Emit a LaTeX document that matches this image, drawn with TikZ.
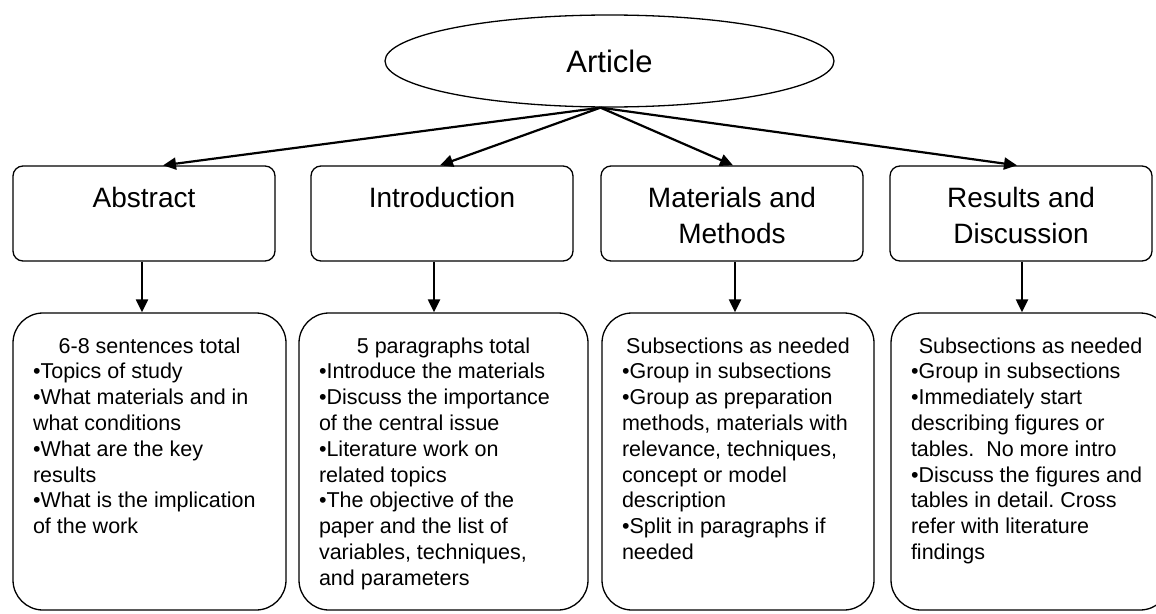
\documentclass[tikz,border=0pt]{standalone}
\usepackage{fontspec}
\setmainfont{Liberation Sans}
\usetikzlibrary{arrows.meta,shapes.geometric}
\frenchspacing
\newcommand{\titlefont}{\fontsize{28pt}{36pt}\selectfont}
\newcommand{\bodyfont}{\fontsize{21.5pt}{25.8pt}\selectfont}
\newcommand{\topcontent}[1]{\parbox[c][95pt][t]{250pt}{\titlefont\centering\rule{0pt}{41pt}#1\par}}
\newcommand{\botcontent}[3]{\parbox[c][297pt][t]{#1}{\bodyfont{\centering\rule{0pt}{40pt}#2\par}\raggedright #3\par}}
\tikzset{
  topbox/.style={draw, line width=1.3pt, rounded corners=10pt, inner sep=0pt, minimum width=262pt, minimum height=95pt},
  botbox/.style={draw, line width=1.3pt, rounded corners=30pt, inner sep=0pt, minimum height=297pt},
  arr/.style={line width=2.2pt, -{Triangle[length=13pt,width=12pt]}},
}
\begin{document}
\begin{tikzpicture}[x=1pt,y=-1pt]
\useasboundingbox (0,0) rectangle (1156,613);
\node[draw, ellipse, line width=1.3pt, minimum width=449pt, minimum height=92pt, inner sep=0pt] (art) at (609.5,61) {\fontsize{31pt}{36pt}\selectfont Article};

\node[topbox] (abs) at (144,213.5) {\topcontent{Abstract}};
\node[topbox] (intro) at (442,213.5) {\topcontent{Introduction}};
\node[topbox] (mm) at (732,213.5) {\topcontent{Materials and\\Methods}};
\node[topbox] (rd) at (1021,213.5) {\topcontent{Results and\\Discussion}};

\node[botbox, minimum width=273pt] (absd) at (149.5,461.5) {\botcontent{233pt}{6-8 sentences total}{%
•Topics of study\\
•What materials and in\\
what conditions\\
•What are the key\\
results\\
•What is the implication\\
of the work}};
\node[botbox, minimum width=289pt] (introd) at (443.5,461.5) {\botcontent{249pt}{5 paragraphs total}{%
•Introduce the materials\\
•Discuss the importance\\
of the central issue\\
•Literature work on\\
related topics\\
•The objective of the\\
paper and the list of\\
variables, techniques,\\
and parameters}};
\node[botbox, minimum width=272pt] (mmd) at (738,461.5) {\botcontent{232pt}{Subsections as needed}{%
•Group in subsections\\
•Group as preparation\\
methods, materials with\\
relevance, techniques,\\
concept or model\\
description\\
•Split in paragraphs if\\
needed}};
\node[botbox, minimum width=279pt] (rdd) at (1030.5,461.5) {\botcontent{239pt}{Subsections as needed}{%
•Group in subsections\\
•Immediately start\\
describing figures or\\
tables.\ \ No more intro\\
•Discuss the figures and\\
tables in detail. Cross\\
refer with literature\\
findings}};

\draw[arr] ([xshift=-9pt]art.south) -- ([xshift=19pt]abs.north);
\draw[arr] ([xshift=-9pt]art.south) -- ([xshift=-2pt]intro.north);
\draw[arr] ([xshift=-9pt]art.south) -- ([xshift=1pt]mm.north);
\draw[arr] ([xshift=-9pt]art.south) -- ([xshift=-4pt]rd.north);

\draw[arr] ([xshift=-2pt]abs.south) -- ([xshift=-2pt]abs.south |- absd.north);
\draw[arr] ([xshift=-8pt]intro.south) -- ([xshift=-8pt]intro.south |- introd.north);
\draw[arr] ([xshift=3pt]mm.south) -- ([xshift=3pt]mm.south |- mmd.north);
\draw[arr] ([xshift=1pt]rd.south) -- ([xshift=1pt]rd.south |- rdd.north);
\end{tikzpicture}
\end{document}
